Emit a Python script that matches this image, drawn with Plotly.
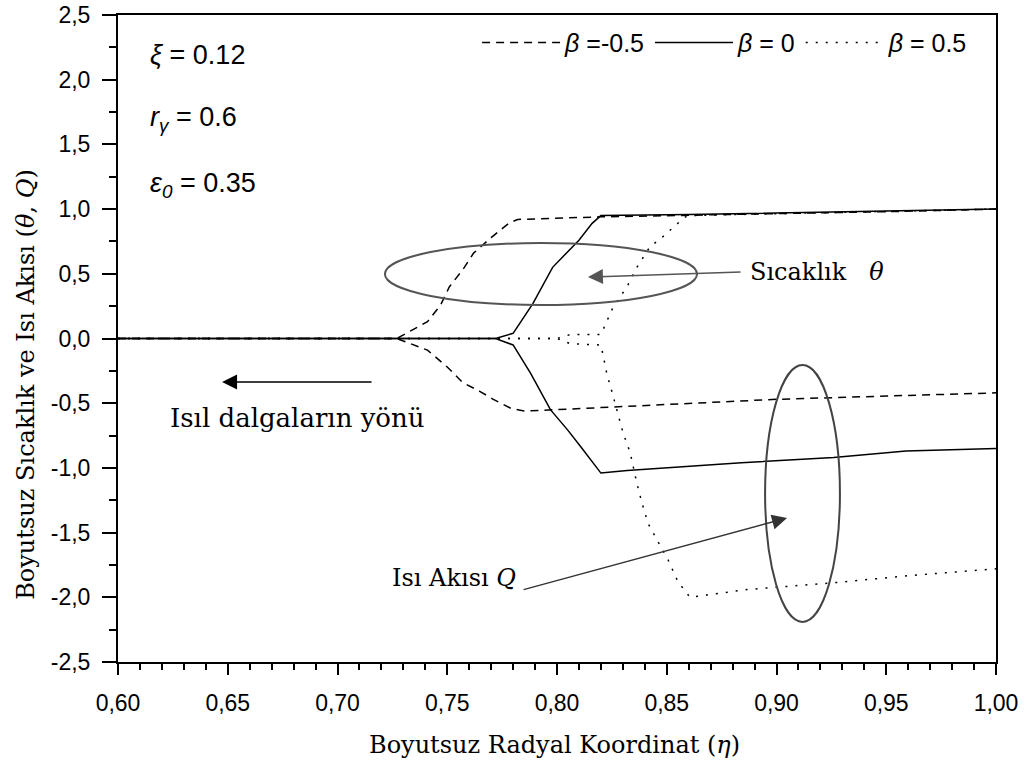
import plotly.graph_objects as go

# ---------------- data ----------------
eta_theta_m05 = [0.60, 0.727, 0.741, 0.747, 0.751, 0.757, 0.762, 0.770, 0.778, 0.782, 0.820, 0.860, 0.900, 0.950, 1.000]
theta_m05 = [0.0, 0.0, 0.13, 0.26, 0.40, 0.53, 0.66, 0.78, 0.89, 0.92, 0.94, 0.955, 0.965, 0.98, 1.0]

eta_theta_0 = [0.60, 0.772, 0.780, 0.789, 0.798, 0.810, 0.816, 0.820, 0.860, 0.900, 0.950, 1.000]
theta_0 = [0.0, 0.0, 0.04, 0.27, 0.55, 0.76, 0.89, 0.95, 0.958, 0.968, 0.985, 1.0]

eta_theta_p05 = [0.60, 0.800, 0.806, 0.820, 0.8255, 0.8319, 0.8364, 0.8424, 0.8478, 0.8524, 0.857, 0.8595, 0.900, 0.950, 1.000]
theta_p05 = [0.0, 0.0, 0.03, 0.03, 0.24, 0.40, 0.55, 0.71, 0.78, 0.85, 0.92, 0.95, 0.965, 0.98, 1.0]

eta_q_m05 = [0.60, 0.727, 0.741, 0.750, 0.757, 0.765, 0.771, 0.779, 0.785, 0.800, 0.850, 0.900, 0.950, 1.000]
q_m05 = [0.0, 0.0, -0.09, -0.22, -0.34, -0.41, -0.47, -0.54, -0.56, -0.55, -0.51, -0.47, -0.445, -0.42]

eta_q_0 = [0.60, 0.772, 0.780, 0.788, 0.797, 0.805, 0.811, 0.820, 0.832, 0.884, 0.926, 0.959, 1.000]
q_0 = [0.0, 0.0, -0.05, -0.27, -0.55, -0.71, -0.84, -1.04, -1.02, -0.96, -0.92, -0.87, -0.85]

eta_q_p05 = [0.60, 0.800, 0.806, 0.820, 0.8210, 0.8228, 0.8255, 0.8278, 0.8301, 0.8333, 0.8364, 0.8387,
             0.8415, 0.8460, 0.8506, 0.8551, 0.8606, 0.8866, 0.9244, 0.9622, 1.000]
q_p05 = [0.0, 0.0, -0.04, -0.05, -0.13, -0.28, -0.44, -0.59, -0.73, -0.88, -1.12, -1.27,
         -1.43, -1.57, -1.71, -1.88, -2.00, -1.94, -1.89, -1.83, -1.78]

beta_labels = ["<i>β</i> =-0.5", "<i>β</i> = 0", "<i>β</i> = 0.5"]
x_ticks = [0.60, 0.65, 0.70, 0.75, 0.80, 0.85, 0.90, 0.95, 1.00]
x_tick_labels = ["0,60", "0,65", "0,70", "0,75", "0,80", "0,85", "0,90", "0,95", "1,00"]
y_ticks = [-2.5, -2.0, -1.5, -1.0, -0.5, 0.0, 0.5, 1.0, 1.5, 2.0, 2.5]
y_tick_labels = ["-2,5", "-2,0", "-1,5", "-1,0", "-0,5", "0,0", "0,5", "1,0", "1,5", "2,0", "2,5"]

DASH = "8px,6px"
DOT = "2px,8px"
styles = [DASH, "solid", DOT]

fig = go.Figure()
theta_sets = [(eta_theta_m05, theta_m05), (eta_theta_0, theta_0), (eta_theta_p05, theta_p05)]
q_sets = [(eta_q_m05, q_m05), (eta_q_0, q_0), (eta_q_p05, q_p05)]

for i, (ex, ey) in enumerate(theta_sets):
    fig.add_trace(go.Scatter(x=ex, y=ey, mode="lines", name=beta_labels[i],
                             legendgroup=str(i), showlegend=True,
                             line=dict(color="black", width=1.5, dash=styles[i])))
for i, (ex, ey) in enumerate(q_sets):
    fig.add_trace(go.Scatter(x=ex, y=ey, mode="lines", name=beta_labels[i],
                             legendgroup=str(i), showlegend=False,
                             line=dict(color="black", width=1.5, dash=styles[i])))

TICKFONT = dict(family="Liberation Sans, Arial, sans-serif", size=23, color="black")
SERIF = "DejaVu Serif, serif"
PARAM = dict(family="Liberation Sans, Arial, sans-serif", size=27, color="black")
NOTE = dict(family=SERIF, size=24, color="black")

fig.update_xaxes(range=[0.6, 1.0], tickvals=x_ticks, ticktext=x_tick_labels, automargin=False,
                 ticklabeloverflow="allow",
                 showline=True, linecolor="black", linewidth=2, mirror=True,
                 ticks="outside", ticklen=11, tickwidth=2, tickcolor="black", ticklabelstandoff=8,
                 minor=dict(dtick=0.01, ticks="outside", ticklen=6, tickwidth=2, tickcolor="black"),
                 showgrid=False, zeroline=False, tickfont=TICKFONT)
fig.update_yaxes(range=[-2.5, 2.5], tickvals=y_ticks, ticktext=y_tick_labels, automargin=False,
                 ticklabeloverflow="allow",
                 showline=True, linecolor="black", linewidth=2, mirror=True,
                 ticks="outside", ticklen=14, tickwidth=2, tickcolor="black", ticklabelstandoff=7,
                 minor=dict(dtick=0.25, ticks="outside", ticklen=7, tickwidth=2, tickcolor="black"),
                 showgrid=False, zeroline=False, tickfont=TICKFONT)

annotations = [
    # axis titles
    dict(xref="paper", yref="paper", x=0.497, y=-0.128, text="Boyutsuz Radyal Koordinat (<i>η</i>)",
         showarrow=False, xanchor="center", yanchor="middle", font=dict(family=SERIF, size=24, color="black")),
    dict(xref="paper", yref="paper", x=-0.1048, y=0.43, text="Boyutsuz Sıcaklık ve Isı Akısı (<i>θ</i>, <i>Q</i>)",
         textangle=-90, showarrow=False, xanchor="center", yanchor="middle",
         font=dict(family=SERIF, size=24, color="black")),
    # parameters
    dict(xref="x", yref="y", x=0.6137, y=2.19, text="<i>ξ</i> = 0.12", showarrow=False,
         xanchor="left", yanchor="middle", font=PARAM),
    dict(xref="x", yref="y", x=0.6137, y=1.70, text="<i>r<sub>γ</sub></i> = 0.6", showarrow=False,
         xanchor="left", yanchor="middle", font=PARAM),
    dict(xref="x", yref="y", x=0.6137, y=1.186, text="<i>ε<sub>0</sub></i> = 0.35", showarrow=False,
         xanchor="left", yanchor="middle", font=PARAM),
    # arrows
    dict(xref="x", yref="y", axref="x", ayref="y", x=0.8141, y=0.475, ax=0.8843, ay=0.514,
         text="", showarrow=True, arrowhead=2, arrowsize=2, arrowwidth=1.5, arrowcolor="#555"),
    dict(xref="x", yref="y", x=0.8872, y=0.514, text="Sıcaklık   <i>θ</i>", showarrow=False,
         xanchor="left", yanchor="middle", font=NOTE),
    dict(xref="x", yref="y", axref="x", ayref="y", x=0.9048, y=-1.387, ax=0.7841, ay=-1.944,
         text="", showarrow=True, arrowhead=2, arrowsize=2, arrowwidth=1.5, arrowcolor="#333"),
    dict(xref="x", yref="y", x=0.7822, y=-1.85, text="Isı Akısı <i>Q</i>", showarrow=False,
         xanchor="right", yanchor="middle", font=NOTE),
    dict(xref="x", yref="y", axref="x", ayref="y", x=0.6474, y=-0.336, ax=0.7162, ay=-0.336,
         text="", showarrow=True, arrowhead=2, arrowsize=2, arrowwidth=1.5, arrowcolor="black"),
    dict(xref="x", yref="y", x=0.6816, y=-0.614, text="Isıl dalgaların yönü", showarrow=False,
         xanchor="center", yanchor="middle", font=dict(family=SERIF, size=26, color="black")),
]

shapes = [
    dict(type="circle", xref="x", yref="y", x0=0.7216, x1=0.8638, y0=0.259, y1=0.738,
         line=dict(color="#555", width=2)),
    dict(type="circle", xref="x", yref="y", x0=0.8948, x1=0.9289, y0=-2.19, y1=-0.205,
         line=dict(color="#444", width=2)),
]

fig.update_layout(
    width=1027, height=769,
    margin=dict(l=118, r=31, t=15, b=107, autoexpand=False),
    paper_bgcolor="white", plot_bgcolor="white",
    annotations=annotations, shapes=shapes,
    showlegend=True,
    legend=dict(orientation="h", x=0.409, y=0.957, xanchor="left", yanchor="middle",
                bgcolor="rgba(0,0,0,0)", itemwidth=78,
                font=dict(family="Liberation Sans, Arial, sans-serif", size=25, color="black")),
)

fig.write_html("out.html",
               config={"displayModeBar": False},
               post_script="document.body.style.margin='0';document.body.style.overflow='hidden';")
